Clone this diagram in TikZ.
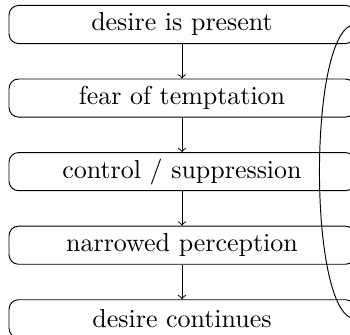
\documentclass[tikz,border=0pt]{standalone}
\usetikzlibrary{positioning}

\begin{document}
\begin{tikzpicture}[x=0.42pt, y=-0.42pt, node distance=14.5pt,
    etape/.style={draw, rounded corners=4pt, minimum width=145.3pt,
                  minimum height=16pt, inner sep=2pt,
                  font=\fontsize{10.9}{13}\selectfont},
    fleche/.style={->}]
  \useasboundingbox (0,0) rectangle (350,335);
  \clip (0,0) rectangle (350,335);

  % la chaine des etapes
  \node[etape] (desir) at (182,24.5) {desire is present};
  \node[etape, below=of desir] (peur) {fear of temptation};
  \node[etape, below=of peur] (controle) {control / suppression};
  \node[etape, below=of controle] (percep) {narrowed perception};
  \node[etape, below=of percep] (suite) {desire continues};

  \draw[fleche] (desir) -- (peur);
  \draw[fleche] (peur) -- (controle);
  \draw[fleche] (controle) -- (percep);
  \draw[fleche] (percep) -- (suite);

  % boucle de retour, coupee au bord droit
  \draw (suite.east) .. controls +(-48,0) and +(-48,0) .. (desir.east);
\end{tikzpicture}
\end{document}
